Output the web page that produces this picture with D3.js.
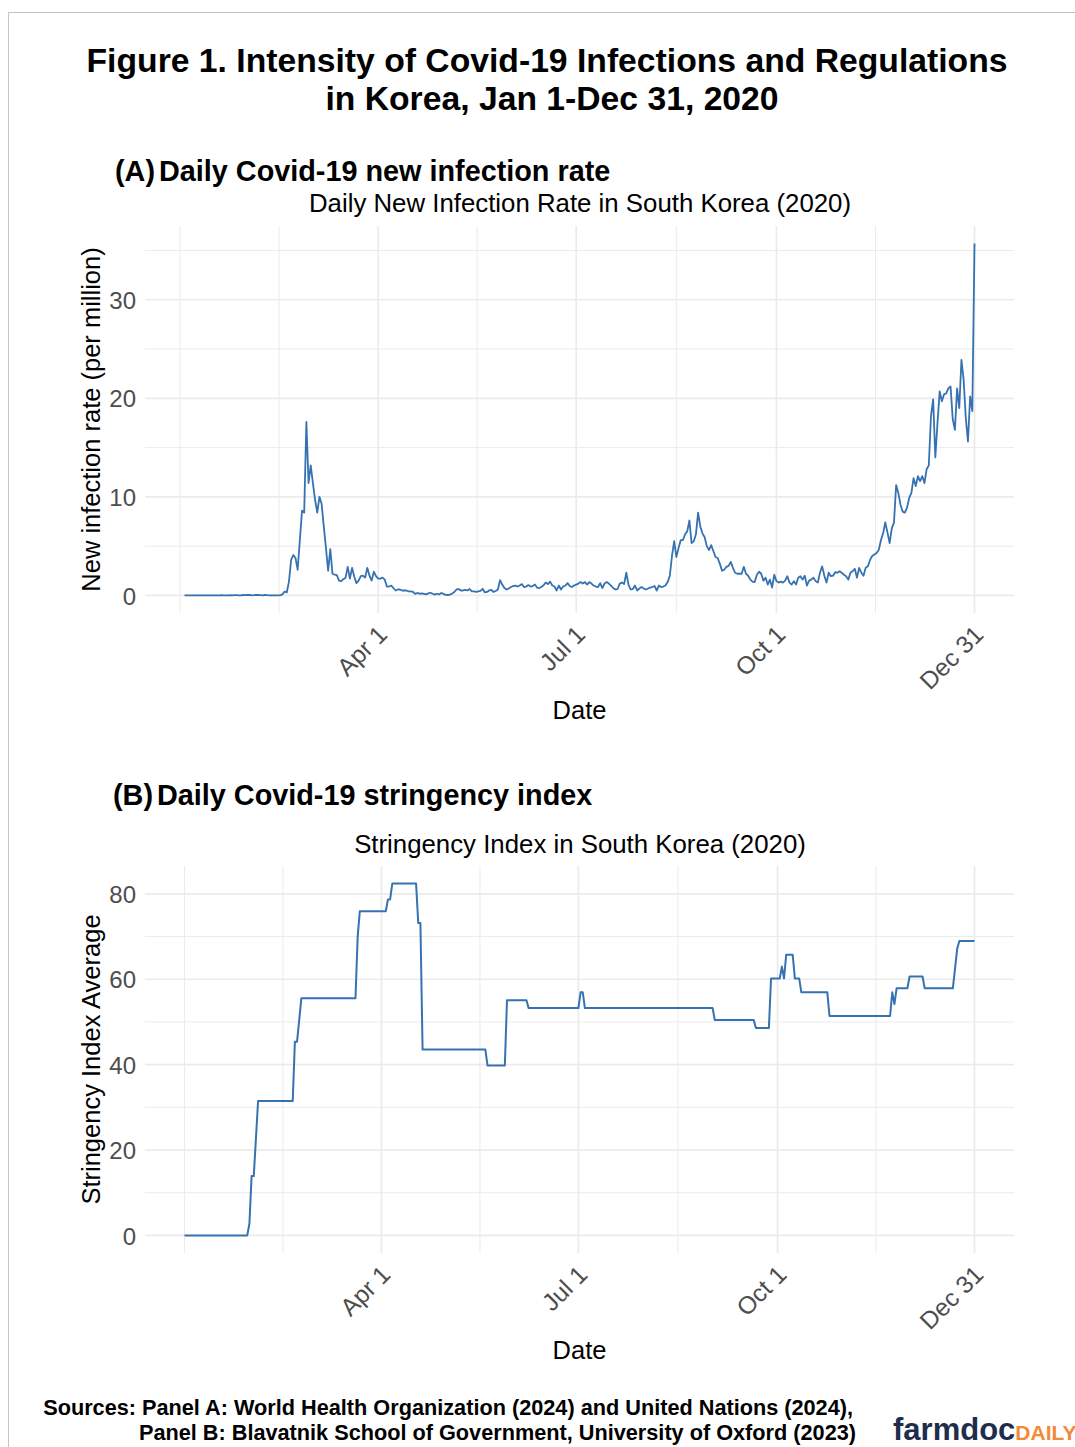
<!DOCTYPE html>
<html>
<head>
<meta charset="utf-8">
<script src="https://cdn.jsdelivr.net/npm/d3@7"></script>
<style>
  body { margin: 0; background: #fff; }
  svg { display: block; font-family: "Liberation Sans", Arial, sans-serif; }
</style>
</head>
<body>
<div id="chart"></div>
<script>
// Panel A: new infections per million, one value per day from Jan 3 2020
var infStart = "2020-01-03";
var infJan = [0,0,0,0,0,0,0,0,0,0,0,0,0,0,0,0,0,0.02,0,0,0,0.02,0,0.02,0.02,0,0,0.06,0.02];
var infFeb = [0.04,0.06,0,0.02,0.06,0.04,0.02,0,0.06,0.02,0,0,0,0,0,0.02,0.1,
              0.4,0.3,1.4,3.6,4.1,3.8,2.6,5.6,8.6,8.4,17.6,11.4];
var infMar = [13.2,11.4,9.7,8.4,10.0,9.3,7.0,4.8,2.5,4.7,2.2,2.1,2.05,1.5,1.45,1.65,
              1.8,2.9,1.7,2.8,1.9,1.25,1.5,1.95,2.0,1.8,2.8,2.0,1.5,2.4,1.95];
var infApr = [1.7,1.7,1.8,1.6,0.9,0.9,1.0,0.75,0.5,0.6,0.6,0.5,0.5,0.5,0.4,
              0.4,0.35,0.15,0.25,0.17,0.2,0.15,0.1,0.2,0.27,0.17,0.08,0.17,0.1,0.25];
var infMay = [0.15,0.06,0.04,0.08,0.2,0.35,0.6,0.65,0.5,0.5,0.55,0.5,0.65,0.4,0.4,0.35,
              0.4,0.45,0.67,0.3,0.35,0.5,0.55,0.35,0.45,0.6,1.55,1.1,0.75,0.6,0.7];
var infJun = [0.85,0.95,1.0,0.9,1.0,1.15,0.85,0.9,1.05,0.9,0.95,1.1,0.8,0.75,0.85,
              1.05,1.3,1.15,1.4,1.0,0.9,0.5,1.0,0.6,0.9,1.0,1.25,0.95,0.85,1.0];
var infJul = [1.1,1.2,1.35,1.2,1.35,1.1,1.35,1.2,1.0,0.9,0.85,1.25,0.75,1.2,1.35,1.2,
              1.0,0.75,0.6,0.65,1.2,1.3,1.15,2.3,1.1,0.6,0.65,1.0,0.5,0.7,0.85];
var infAug = [0.7,0.6,0.7,0.8,0.85,0.95,0.5,1.0,0.85,0.9,1.0,1.35,2.0,4.0,5.5,3.9,
              4.8,5.6,5.6,6.2,6.5,7.6,5.3,5.5,6.2,8.4,7.0,6.3,5.9,5.0,4.6];
var infSep = [5.1,4.5,3.9,3.8,3.2,2.5,2.6,2.9,3.0,3.4,2.8,2.3,2.2,2.2,2.2,
              2.9,2.2,2.0,1.6,1.4,1.35,2.1,2.4,2.2,1.5,1.8,1.1,1.6,0.8,2.1];
var infOct = [1.45,1.3,1.4,1.3,1.5,1.95,1.3,1.1,1.45,1.1,1.8,1.95,1.6,2.0,1.0,1.5,
              1.6,1.8,1.45,1.3,2.3,2.95,2.0,1.3,2.3,1.95,2.0,2.35,2.3,2.45,2.3];
var infNov = [2.1,1.95,1.6,2.3,2.45,2.7,1.8,2.8,2.3,2.0,2.8,2.95,3.6,4.0,4.15,
              4.3,4.6,5.6,6.3,7.4,6.4,5.3,6.8,7.4,11.2,10.4,9.2,8.5,8.4,8.9];
var infDec = [9.9,10.4,11.9,11.1,12.1,11.6,12.1,11.4,12.8,13.2,18.2,19.9,14.0,17.5,20.7,19.7,
              20.4,20.5,21.0,21.2,17.9,16.8,21.0,19.0,23.9,21.9,18.0,15.6,20.2,18.7,35.7];

// Panel B: stringency index, first day of each level and the level
var strStart = ["2020-01-01","2020-01-31","2020-02-01","2020-02-03","2020-02-04","2020-02-21",
                "2020-02-23","2020-02-24","2020-03-21","2020-03-22","2020-04-04","2020-04-06",
                "2020-04-18","2020-04-20","2020-05-20","2020-05-29","2020-06-08","2020-07-02",
                "2020-07-04","2020-09-02","2020-09-21","2020-09-28","2020-10-03","2020-10-04",
                "2020-10-05","2020-10-09","2020-10-12","2020-10-25","2020-11-23","2020-11-24",
                "2020-11-25","2020-12-01","2020-12-08","2020-12-22","2020-12-23","2020-12-24"];
var strValue = [0,2.78,13.89,22.69,31.48,45.37,
                50.46,55.56,69.91,75.93,78.7,82.41,
                73.15,43.52,39.81,55.09,53.24,56.94,
                53.24,50.46,48.61,60.19,62.96,60.19,
                65.74,60.19,56.94,51.39,56.94,54.17,
                57.87,60.65,57.87,62.5,67.13,68.98];
var strEnd = "2020-12-31";

var xTickDates = ["2020-04-01","2020-07-01","2020-10-01","2020-12-31"];
var xTickLabels = ["Apr 1","Jul 1","Oct 1","Dec 31"];
var yTicksA = [0,10,20,30];
var yTicksB = [0,20,40,60,80];

var parse = d3.timeParse("%Y-%m-%d");

var infection = [].concat(infJan, infFeb, infMar, infApr, infMay, infJun,
                          infJul, infAug, infSep, infOct, infNov, infDec);
var dataA = infection.map(function(v, i) {
  return {date: d3.timeDay.offset(parse(infStart), i), value: v};
});

// step series -> vertices at the start and end of each level
var dataB = [];
strStart.forEach(function(s, i) {
  var d0 = parse(s);
  var d1 = i < strStart.length - 1 ? d3.timeDay.offset(parse(strStart[i + 1]), -1) : parse(strEnd);
  dataB.push({date: d0, value: strValue[i]});
  if (+d1 > +d0) dataB.push({date: d1, value: strValue[i]});
});

var W = 1075, H = 1447;
var svg = d3.select("#chart").append("svg")
  .attr("width", W).attr("height", H);

svg.append("rect").attr("width", W).attr("height", H).attr("fill", "#fff");

// frame of the screenshot
svg.append("path")
  .attr("d", "M8.5," + H + "V12.5H" + W)
  .attr("fill", "none").attr("stroke", "#c4c4c4").attr("stroke-width", 1);

svg.append("text").attr("x", 547).attr("y", 72).attr("text-anchor", "middle")
  .attr("font-size", 33.7).attr("font-weight", "bold")
  .text("Figure 1. Intensity of Covid-19 Infections and Regulations");
svg.append("text").attr("x", 552).attr("y", 110).attr("text-anchor", "middle")
  .attr("font-size", 33.7).attr("font-weight", "bold")
  .text("in Korea, Jan 1-Dec 31, 2020");

function expand(lo, hi) {
  var d = (hi - lo) * 0.05;
  return [lo - d, hi + d];
}

function drawPanel(o) {
  var g = svg.append("g");
  var xd = d3.extent(o.data, function(d) { return +d.date; });
  var x = d3.scaleTime()
    .domain(expand(xd[0], xd[1]).map(function(t) { return new Date(t); }))
    .range([o.left, o.right]);
  var ymax = d3.max(o.data, function(d) { return d.value; });
  var y = d3.scaleLinear().domain(expand(0, ymax)).range([o.bottom, o.top]);

  // minor breaks the way ggplot builds them
  var majors = xTickDates.map(function(s) { return +parse(s); });
  var bd = majors[1] - majors[0];
  var dom = x.domain().map(Number);
  var b = majors.slice();
  if (dom[0] < b[0]) b.unshift(b[0] - bd);
  if (dom[1] > b[b.length - 1]) b.push(b[b.length - 1] + bd);
  var xMinor = [];
  for (var i = 0; i < b.length; i++) {
    if (majors.indexOf(b[i]) < 0) xMinor.push(b[i]);
    if (i < b.length - 1) xMinor.push((b[i] + b[i + 1]) / 2);
  }
  xMinor = xMinor.filter(function(t) { return t >= dom[0] && t <= dom[1]; });
  var step = o.yTicks[1] - o.yTicks[0];
  var yMinor = o.yTicks.map(function(t) { return t + step / 2; })
    .concat([o.yTicks[0] - step / 2])
    .filter(function(t) { return t >= y.domain()[0] && t <= y.domain()[1]; });

  var grid = g.append("g").attr("fill", "none").attr("stroke", "#ebebeb");
  grid.selectAll(".ymin").data(yMinor).enter().append("line")
    .attr("x1", o.left).attr("x2", o.right)
    .attr("y1", function(d) { return y(d); }).attr("y2", function(d) { return y(d); })
    .attr("stroke-width", 1);
  grid.selectAll(".xmin").data(xMinor).enter().append("line")
    .attr("y1", o.top).attr("y2", o.bottom)
    .attr("x1", function(d) { return x(new Date(d)); }).attr("x2", function(d) { return x(new Date(d)); })
    .attr("stroke-width", 1);
  grid.selectAll(".ymaj").data(o.yTicks).enter().append("line")
    .attr("x1", o.left).attr("x2", o.right)
    .attr("y1", function(d) { return y(d); }).attr("y2", function(d) { return y(d); })
    .attr("stroke-width", 1.7);
  grid.selectAll(".xmaj").data(majors).enter().append("line")
    .attr("y1", o.top).attr("y2", o.bottom)
    .attr("x1", function(d) { return x(new Date(d)); }).attr("x2", function(d) { return x(new Date(d)); })
    .attr("stroke-width", 1.7);

  // y axis labels
  var ya = g.append("g").attr("transform", "translate(" + (o.left - 9) + ",0)")
    .call(d3.axisLeft(y).tickValues(o.yTicks).tickSize(0).tickPadding(0));
  ya.select(".domain").remove();
  ya.selectAll("text").attr("font-size", 24).attr("fill", "#4d4d4d")
    .attr("font-family", "Liberation Sans, Arial, sans-serif").attr("dy", "0.36em");

  // x axis labels, rotated
  var xa = g.append("g").attr("transform", "translate(-3," + (o.bottom + 10) + ")")
    .call(d3.axisBottom(x).tickValues(majors.map(function(t) { return new Date(t); }))
      .tickFormat(function(d, i) { return xTickLabels[i]; }).tickSize(0).tickPadding(0));
  xa.select(".domain").remove();
  xa.selectAll("text").attr("font-size", 24.5).attr("fill", "#4d4d4d")
    .attr("font-family", "Liberation Sans, Arial, sans-serif")
    .attr("text-anchor", "end").attr("dy", "0.75em").attr("y", 0)
    .attr("transform", "rotate(-45)");

  var line = d3.line()
    .x(function(d) { return x(d.date); })
    .y(function(d) { return y(d.value); });
  g.append("path").datum(o.data)
    .attr("fill", "none").attr("stroke", "#3672b1").attr("stroke-width", o.lw)
    .attr("stroke-linejoin", "round").attr("d", line);

  g.append("text").attr("x", o.tagX).attr("y", o.headY)
    .attr("font-size", 28.8).attr("font-weight", "bold").text(o.tag);
  g.append("text").attr("x", o.tagX + 44).attr("y", o.headY)
    .attr("font-size", 28.8).attr("font-weight", "bold").text(o.head);
  g.append("text").attr("x", (o.left + o.right) / 2 + 0.5).attr("y", o.subY)
    .attr("text-anchor", "middle").attr("font-size", 25.8).text(o.sub);
  g.append("text")
    .attr("transform", "translate(100," + (o.top + o.bottom) / 2 + ") rotate(-90)")
    .attr("text-anchor", "middle").attr("font-size", 25.5).text(o.ytitle);
  g.append("text").attr("x", (o.left + o.right) / 2).attr("y", o.dateY)
    .attr("text-anchor", "middle").attr("font-size", 25.5).text("Date");
}

drawPanel({
  data: dataA, left: 145, right: 1014, top: 226, bottom: 613, yTicks: yTicksA, lw: 1.8,
  tag: "(A)", head: "Daily Covid-19 new infection rate", tagX: 115, headY: 181,
  sub: "Daily New Infection Rate in South Korea (2020)", subY: 212,
  ytitle: "New infection rate (per million)", dateY: 719
});
drawPanel({
  data: dataB, left: 145, right: 1014, top: 866, bottom: 1253, yTicks: yTicksB, lw: 2,
  tag: "(B)", head: "Daily Covid-19 stringency index", tagX: 113, headY: 805,
  sub: "Stringency Index in South Korea (2020)", subY: 853,
  ytitle: "Stringency Index Average", dateY: 1359
});

svg.append("text").attr("x", 853).attr("y", 1415).attr("text-anchor", "end")
  .attr("font-size", 21.7).attr("font-weight", "bold")
  .text("Sources: Panel A: World Health Organization (2024) and United Nations (2024),");
svg.append("text").attr("x", 856).attr("y", 1440).attr("text-anchor", "end")
  .attr("font-size", 21.7).attr("font-weight", "bold")
  .text("Panel B: Blavatnik School of Government, University of Oxford (2023)");

var logo = svg.append("text").attr("x", 893).attr("y", 1440)
  .attr("font-weight", "bold");
logo.append("tspan").attr("font-size", 31).attr("fill", "#1f2d4d").text("farmdoc");
logo.append("tspan").attr("font-size", 21).attr("fill", "#f28a3a").text("DAILY");
</script>
</body>
</html>
